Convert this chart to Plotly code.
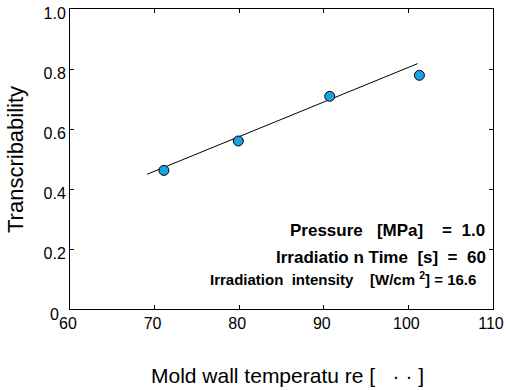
import plotly.graph_objects as go

temp = [71.1, 79.9, 90.7, 101.3]
transcribability = [0.462, 0.560, 0.709, 0.779]
fit_x = [69.1, 101.1]
fit_y = [0.449, 0.818]

x_ticks = [60, 70, 80, 90, 100, 110]
y_ticks = [0.2, 0.4, 0.6, 0.8, 1.0]
y_tick_labels = ["0.2", "0.4", "0.6", "0.8", "1.0"]

FONT = "Liberation Sans, Arial, sans-serif"

fig = go.Figure()
fig.add_trace(go.Scatter(x=fit_x, y=fit_y, mode="lines",
                         line=dict(color="black", width=1), showlegend=False))
fig.add_trace(go.Scatter(x=temp, y=transcribability, mode="markers",
                         marker=dict(size=10, color="#1ba1e2",
                                     line=dict(color="black", width=1)),
                         showlegend=False))

L, R, T, B = 70, 13, 9, 81
W, H = 506, 390
pw, ph = W - L - R, H - T - B

fig.update_layout(
    width=W, height=H,
    margin=dict(l=L, r=R, t=T, b=B, autoexpand=False),
    paper_bgcolor="white", plot_bgcolor="white",
    font=dict(family=FONT, color="black", size=16),
    xaxis=dict(range=[60, 110], tickvals=x_ticks, ticks="inside", ticklen=4,
               tickcolor="black", showline=True, linecolor="black", linewidth=1,
               mirror="ticks", showgrid=False, zeroline=False, automargin=False,
               ticklabelshift=-2, tickfont=dict(size=16)),
    yaxis=dict(range=[0, 1.0], tickvals=y_ticks, ticktext=y_tick_labels,
               ticks="inside", ticklen=4, tickcolor="black", showline=True,
               linecolor="black", linewidth=1, mirror="ticks", showgrid=False,
               zeroline=False, automargin=False, ticklabelshift=4,
               tickfont=dict(size=16)),
    annotations=[
        dict(text="0", xref="paper", yref="paper",
             x=(54 - L) / pw, y=(H - B - 314) / ph, showarrow=False,
             font=dict(size=16), xanchor="center", yanchor="middle"),
        dict(text="Mold wall temperatu re [   · · ]", xref="paper", yref="paper",
             x=(287 - L) / pw, y=(H - B - 375) / ph, showarrow=False,
             font=dict(size=21), xanchor="center", yanchor="middle"),
        dict(text="Transcribability", xref="paper", yref="paper",
             x=(15 - L) / pw, y=(H - B - 160) / ph, showarrow=False,
             font=dict(size=22), textangle=-90, xanchor="center", yanchor="middle"),
        dict(text="<b>Pressure   [MPa]    =  1.0</b>", xref="paper", yref="paper",
             x=(487 - L) / pw, y=(H - B - 230) / ph, showarrow=False,
             font=dict(size=17), xanchor="right", yanchor="middle"),
        dict(text="<b>Irradiatio n Time  [s]  =  60</b>", xref="paper", yref="paper",
             x=(488 - L) / pw, y=(H - B - 257) / ph, showarrow=False,
             font=dict(size=17), xanchor="right", yanchor="middle"),
        dict(text="<b>Irradiation  intensity    [W/cm <sup>2</sup>] = 16.6</b>",
             xref="paper", yref="paper",
             x=(478 - L) / pw, y=(H - B - 278) / ph, showarrow=False,
             font=dict(size=15), xanchor="right", yanchor="middle"),
    ],
)

fig.write_html("out.html", config={"displayModeBar": False},
               post_script="document.body.style.margin='0';document.body.style.overflow='hidden';")
